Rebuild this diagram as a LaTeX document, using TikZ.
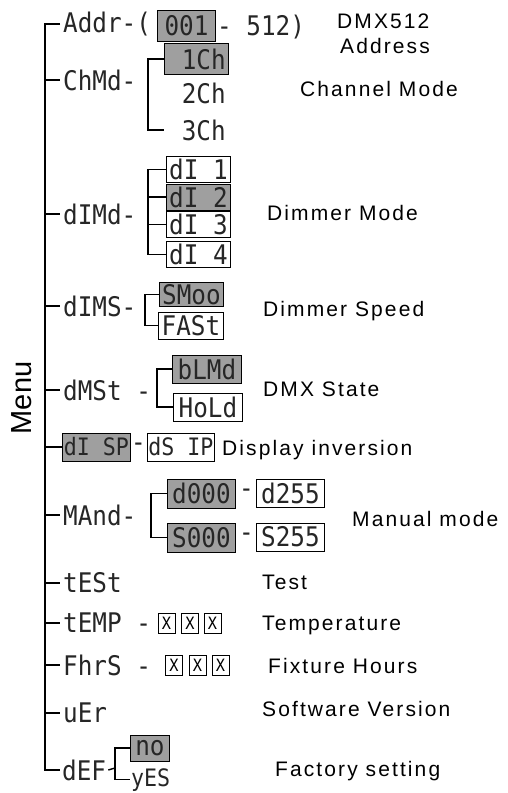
\documentclass[tikz,border=0pt]{standalone}
\usepackage{fontspec}
\setmainfont{Liberation Sans}
\newfontfamily\segfont[FakeStretch=0.9]{DejaVu Sans Mono}
\newfontfamily\labfont[LetterSpace=10]{Liberation Sans}

\begin{document}
\begin{tikzpicture}
[x=1pt,y=-1pt,
  segText/.style={font=\segfont\fontsize{27}{27}\selectfont,inner sep=3pt,anchor=west,text=black!85},%
  dispBox/.style={segText,minimum width=64pt,minimum height=26pt,inner sep=1pt,draw,line width=0.9pt},%
  grayBox/.style={dispBox,fill=gray!75},%
  whiteBox/.style={dispBox,fill=white},%
  plainBox/.style={dispBox,draw=none},%
  smallSeg/.style={font=\segfont\fontsize{24}{24}\selectfont},%
  xBox/.style={draw,line width=0.8pt,minimum width=17pt,minimum height=20pt,inner sep=0pt,font=\segfont\fontsize{17}{17}\selectfont},%
  treeLine/.style={line width=1.4pt},%
  caption/.style={font=\labfont\fontsize{21}{21}\selectfont,anchor=base west,inner sep=0pt}]
\useasboundingbox (0,0) rectangle (508,793);
\coordinate (spine) at (45,0);
%% first level of the menu
\foreach \name/\y/\txt in {addr/24/Addr-(, chmd/80/ChMd-, dimd/214/dIMd-,
  dims/306/dIMS-, dmst/390/dMSt -, mand/515/MAnd-, test/583/tESt,
  temp/623/tEMP -, fhrs/665/FhrS -, uer/713/uEr}
{
  \node (\name) at (60,\y) [segText] {\txt};
}
\node (def) at (60,770) [segText,inner sep=2pt] {dEF};
\node (disp) at (62,447) [grayBox,smallSeg,minimum width=68pt,minimum height=28pt] {dI SP};
%% spine and ticks
\draw[treeLine] (addr.west) -- (addr.west -| spine) -- (def.west -| spine) -- (def.west);
\foreach \name in {chmd,dimd,dims,dmst,disp,mand,test,temp,fhrs,uer}
{
  \draw[treeLine] (\name.west -| spine) -- (\name.west);
}
%% address
\node (first) at (157,26) [grayBox,minimum width=58pt,minimum height=31pt] {001};
\node (last) at (216,27) [segText,inner sep=1pt] {- 512)};
%% channel mode
\node (one) at (164,59) [grayBox,minimum height=31pt] {~1Ch};
\node (two) at (164,93) [plainBox] {~2Ch};
\node (three) at (164,130) [plainBox] {~3Ch};
\coordinate (chmdfork) at (148,95);
\draw[treeLine] (one.west) -| (chmdfork) |- (three.west);
%% dimmer mode
\foreach \name/\y/\txt/\kind in {dOne/169.5/dI 1/whiteBox, dTwo/197/dI 2/grayBox,
  dThree/224.5/dI 3/whiteBox, dFour/254.5/dI 4/whiteBox}
{
  \node (\name) at (166,\y) [\kind] {\txt};
}
\coordinate (dimdfork) at (148,214);
\draw[treeLine] (dOne.west) -| (dimdfork) |- (dFour.west);
\draw[treeLine] (dTwo.west) -- (dTwo.west -| dimdfork);
\draw[treeLine] (dThree.west) -- (dThree.west -| dimdfork);
%% dimmer speed
\node (sOne) at (159,294.5) [grayBox,minimum height=24pt] {SMoo};
\node (sTwo) at (158,325.5) [whiteBox,minimum width=65pt,minimum height=27pt] {FASt};
\coordinate (dimsfork) at (145,310);
\draw[treeLine] (sOne.west) -| (dimsfork) |- (sTwo.west);
%% dmx state
\node (bOne) at (172,369) [grayBox,minimum width=69pt,minimum height=28pt] {bLMd};
\node (bTwo) at (173,407) [whiteBox,minimum width=69pt,minimum height=28pt] {HoLd};
\coordinate (dmstfork) at (157,388);
\draw[treeLine] (bOne.west) -| (dmstfork) |- (bTwo.west);
%% display inversion
\node (dispdash) at (130,447) [segText,inner sep=1pt] {-};
\node (dsip) at (147,447) [whiteBox,smallSeg,minimum width=66pt,minimum height=28pt] {dS IP};
%% manual mode
\node (mOne) at (167,493.5) [grayBox,minimum width=68pt,minimum height=29pt] {d000};
\node (mTwo) at (256,493) [whiteBox,minimum width=68pt,minimum height=28pt] {d255};
\node (mThree) at (167,537.5) [grayBox,minimum width=68pt,minimum height=29pt] {S000};
\node (mFour) at (256,537) [whiteBox,minimum width=68pt,minimum height=28pt] {S255};
\node (mDashA) at (238,493) [segText,inner sep=1pt] {-};
\node (mDashB) at (238,537) [segText,inner sep=1pt] {-};
\coordinate (mandfork) at (151,515);
\draw[treeLine] (mOne.west) -| (mandfork) |- (mThree.west);
%% temperature and hours
\foreach \name/\x/\y in {tA/166.5/623, tB/190/623, tC/212.5/623,
  hA/174/665, hB/197.5/665, hC/220.5/665}
{
  \node (\name) at (\x,\y) [xBox] {X};
}
%% factory setting
\node (nBox) at (130,748) [grayBox,minimum width=39pt] {no};
\node (yes) at (130,786) [segText,smallSeg,inner sep=1pt,anchor=base west] {yES};
\coordinate (deffork) at (115,768);
\draw[treeLine] (def.east) -- (deffork);
\draw[treeLine] (nBox.west) -| (deffork) |- (yes.west);
%% captions
\node (menu) at (22,398) [rotate=90,font=\fontsize{29}{29}\selectfont] {Menu};
\node (capAddrA) at (337,28) [caption] {DMX512};
\node (capAddrB) at (340,53) [caption] {Address};
\foreach \name/\x/\y/\txt in {capChmd/300/96/Channel Mode, capDimd/267/220/Dimmer Mode,
  capDims/263/316/Dimmer Speed, capDmst/263/396/DMX State,
  capDisp/222/455/Display inversion, capMand/352/526/Manual mode,
  capTest/262/589/Test, capTemp/262/630/Temperature,
  capFhrs/268/673/Fixture Hours, capUer/262/716/Software Version,
  capDef/275/776/Factory setting}
{
  \node (\name) at (\x,\y) [caption] {\txt};
}
\end{tikzpicture}
\end{document}
